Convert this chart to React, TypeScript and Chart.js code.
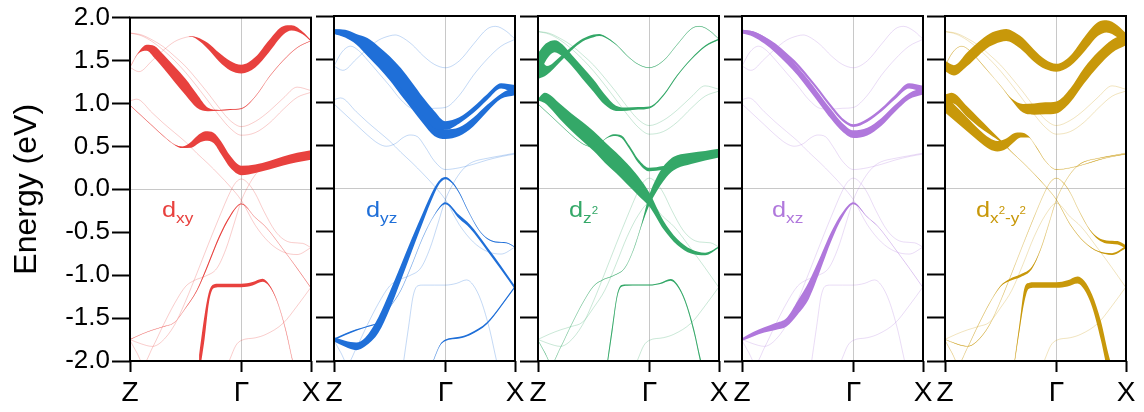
import React, { useEffect, useRef } from 'react';
import { Chart, registerables } from 'chart.js';

Chart.register(...registerables);

const FONT = "'Liberation Sans', Arial, Helvetica, sans-serif";
Chart.defaults.font.family = FONT;

// ---------- axes ----------
const xTickValues = [0, 1.0, 1.625];
const xTickLabels = ['Z', 'Γ', 'X'];
const yTickLabels = ['-2.0', '-1.5', '-1.0', '-0.5', '0.0', '0.5', '1.0', '1.5', '2.0'];
const yTitle = 'Energy (eV)';

// ---------- bands (k along Z-Γ-X, energy in eV) ----------
const kAlpha = [0, 0.07, 0.15, 0.22, 0.3, 0.4, 0.5, 0.6, 0.7, 0.8, 0.9, 1.0, 1.125, 1.25, 1.375, 1.5, 1.625];
const eAlpha = [1.42, 1.58, 1.65, 1.6, 1.49, 1.34, 1.19, 1.03, 0.93, 0.92, 0.93, 0.94, 1.08, 1.31, 1.5, 1.65, 1.73];

const kBeta = [0, 0.08, 0.2, 0.3, 0.4, 0.5, 0.55, 0.6, 0.7, 0.8, 0.9, 1.0, 1.125, 1.25, 1.375, 1.45, 1.55, 1.625];
const eBeta = [1.42, 1.37, 1.5, 1.62, 1.72, 1.77, 1.78, 1.76, 1.67, 1.54, 1.44, 1.4, 1.48, 1.67, 1.85, 1.88, 1.82, 1.73];

const kGamma = [0, 0.1, 0.2, 0.3, 0.4, 0.5, 0.6, 0.7, 0.8, 0.9, 1.0, 1.125, 1.25, 1.375, 1.5, 1.625];
const eGamma1 = [1.82, 1.8, 1.74, 1.66, 1.55, 1.43, 1.28, 1.12, 0.95, 0.8, 0.73, 0.79, 0.91, 1.06, 1.19, 1.15];
const eGamma2 = [1.82, 1.79, 1.72, 1.62, 1.5, 1.36, 1.2, 1.03, 0.86, 0.71, 0.63, 0.66, 0.77, 0.93, 1.07, 1.13];

const kDelta = [0, 0.1, 0.2, 0.3, 0.4, 0.47, 0.55, 0.62, 0.68, 0.75, 0.82, 0.9, 1.0, 1.125, 1.25, 1.375, 1.5, 1.625];
const eDelta = [0.98, 0.86, 0.74, 0.62, 0.52, 0.49, 0.52, 0.59, 0.62, 0.6, 0.48, 0.32, 0.22, 0.24, 0.28, 0.33, 0.37, 0.4];

const kEps = [0, 0.06, 0.2, 0.3, 0.4, 0.5, 0.6, 0.7, 0.8, 0.9, 1.0, 1.125, 1.25, 1.375, 1.5, 1.625];
const eEps = [1.03, 1.05, 0.89, 0.77, 0.66, 0.55, 0.42, 0.3, 0.17, 0.03, -0.13, -0.42, -0.62, -0.73, -0.76, -0.68];

const kEta = [0, 0.06, 0.12, 0.2, 0.3, 0.4, 0.5, 0.58, 0.68, 0.78, 0.86, 0.93, 1.0, 1.0625, 1.125, 1.1875, 1.25, 1.375, 1.5, 1.625];
const eEta = [-1.76, -1.9, -2.03, -1.85, -1.58, -1.33, -1.13, -1.06, -1.01, -0.92, -0.7, -0.42, -0.13, 0.04, 0.17, 0.26, 0.31, 0.35, 0.38, 0.41];

const kZeta = [0, 0.1, 0.2, 0.28, 0.4, 0.5, 0.6, 0.7, 0.8, 0.9, 0.95, 1.0, 1.06, 1.125, 1.2, 1.3, 1.375, 1.45, 1.55, 1.625];
const eZeta = [-1.75, -1.8, -1.83, -1.78, -1.58, -1.3, -0.98, -0.65, -0.33, -0.03, 0.08, 0.12, 0.07, -0.05, -0.25, -0.48, -0.58, -0.62, -0.63, -0.68];

const kTheta = [0, 0.1, 0.2, 0.3, 0.4, 0.5, 0.6, 0.7, 0.8, 0.9, 1.0, 1.125, 1.22, 1.375, 1.5, 1.625];
const eTheta = [-1.75, -1.69, -1.64, -1.6, -1.55, -1.38, -1.18, -0.88, -0.56, -0.31, -0.17, -0.33, -0.44, -0.7, -0.92, -1.15];

const kMu = [0.86, 0.9, 0.95, 1.0, 1.125, 1.22, 1.375, 1.5, 1.625];
const eMu = [-2.1, -1.97, -1.82, -1.76, -1.73, -1.69, -1.56, -1.36, -1.14];

const kXi = [0.62, 0.67, 0.71, 0.75, 0.8, 0.9, 1.0, 1.1, 1.19, 1.25, 1.32, 1.4, 1.46, 1.5];
const eXi = [-2.05, -1.6, -1.25, -1.13, -1.12, -1.12, -1.12, -1.1, -1.06, -1.12, -1.3, -1.65, -2.0, -2.2];

type Band = { name: string; k: number[]; e: number[] };
const BANDS: Band[] = [
  { name: 'alpha', k: kAlpha, e: eAlpha },
  { name: 'beta', k: kBeta, e: eBeta },
  { name: 'gamma1', k: kGamma, e: eGamma1 },
  { name: 'gamma2', k: kGamma, e: eGamma2 },
  { name: 'delta', k: kDelta, e: eDelta },
  { name: 'eps', k: kEps, e: eEps },
  { name: 'eta', k: kEta, e: eEta },
  { name: 'zeta', k: kZeta, e: eZeta },
  { name: 'theta', k: kTheta, e: eTheta },
  { name: 'mu', k: kMu, e: eMu },
  { name: 'xi', k: kXi, e: eXi },
];

// ---------- orbital weights (half-thickness in eV), aligned with band points ----------
const wDxy: Record<string, number[]> = {
  alpha: [0.003, 0.005, 0.035, 0.07, 0.08, 0.09, 0.095, 0.08, 0.02, 0.005, 0.005, 0.005, 0.003, 0.003, 0.003, 0.003, 0.003],
  beta: [0, 0, 0, 0, 0, 0, 0.004, 0.012, 0.035, 0.05, 0.055, 0.05, 0.06, 0.07, 0.05, 0.03, 0.015, 0.008],
  delta: [0.003, 0.003, 0.003, 0.003, 0.003, 0.01, 0.035, 0.05, 0.055, 0.06, 0.075, 0.07, 0.055, 0.05, 0.05, 0.052, 0.055, 0.055],
  theta: [0.002, 0.002, 0.002, 0.002, 0.002, 0.004, 0.008, 0.015, 0.016, 0.012, 0.005, 0.002, 0.002, 0.002, 0.002, 0.002],
  xi: [0.12, 0.14, 0.06, 0.022, 0.02, 0.02, 0.02, 0.02, 0.018, 0.01, 0.005, 0.005, 0.005, 0.005],
};
const wDyz: Record<string, number[]> = {
  gamma1: [0.025, 0.04, 0.05, 0.084, 0.097, 0.104, 0.116, 0.11, 0.105, 0.1, 0.05, 0.035, 0.035, 0.033, 0.03, 0.05],
  gamma2: [0.025, 0.04, 0.05, 0.084, 0.097, 0.104, 0.116, 0.11, 0.105, 0.1, 0.055, 0.05, 0.05, 0.04, 0.03, 0.05],
  zeta: [0.025, 0.035, 0.045, 0.05, 0.09, 0.1, 0.09, 0.075, 0.055, 0.035, 0.02, 0.012, 0.01, 0.008, 0.006, 0.005, 0.005, 0.005, 0.005, 0.005],
  theta: [0.01, 0.01, 0.008, 0.006, 0.004, 0.003, 0.003, 0.003, 0.003, 0.004, 0.012, 0.022, 0.022, 0.022, 0.022, 0.02],
  mu: [0.004, 0.004, 0.006, 0.008, 0.01, 0.012, 0.012, 0.012, 0.012],
};
const wDz2: Record<string, number[]> = {
  alpha: [0.15, 0.1, 0.07, 0.07, 0.065, 0.07, 0.07, 0.06, 0.03, 0.018, 0.015, 0.012, 0.01, 0.008, 0.008, 0.008, 0.008],
  beta: [0.15, 0.05, 0.03, 0.02, 0.015, 0.015, 0.012, 0.008, 0.004, 0.003, 0.003, 0.003, 0.003, 0.003, 0.003, 0.003, 0.003, 0.003],
  delta: [0.003, 0.003, 0.003, 0.003, 0.003, 0.003, 0.003, 0.005, 0.01, 0.015, 0.018, 0.02, 0.02, 0.02, 0.01, 0.005, 0.005, 0.005],
  eps: [0.01, 0.06, 0.09, 0.1, 0.11, 0.115, 0.12, 0.12, 0.12, 0.11, 0.08, 0.05, 0.035, 0.025, 0.015, 0.008],
  eta: [0.003, 0.003, 0.003, 0.003, 0.003, 0.003, 0.003, 0.003, 0.003, 0.003, 0.005, 0.01, 0.06, 0.08, 0.085, 0.08, 0.075, 0.065, 0.055, 0.05],
  xi: [0.03, 0.04, 0.02, 0.01, 0.008, 0.006, 0.006, 0.008, 0.01, 0.012, 0.015, 0.025, 0.03, 0.03],
};
const wDxz: Record<string, number[]> = {
  gamma1: [0.02, 0.022, 0.022, 0.02, 0.02, 0.02, 0.02, 0.02, 0.02, 0.018, 0.016, 0.018, 0.02, 0.025, 0.03, 0.04],
  gamma2: [0.02, 0.03, 0.04, 0.045, 0.05, 0.05, 0.055, 0.055, 0.055, 0.05, 0.045, 0.045, 0.045, 0.04, 0.035, 0.04],
  theta: [0.015, 0.025, 0.03, 0.04, 0.05, 0.08, 0.1, 0.08, 0.055, 0.03, 0.012, 0.002, 0.002, 0.002, 0.002, 0.002],
};
const wDx2y2: Record<string, number[]> = {
  alpha: [0.002, 0.002, 0.002, 0.002, 0.002, 0.002, 0.002, 0.01, 0.05, 0.065, 0.07, 0.07, 0.08, 0.09, 0.085, 0.075, 0.07],
  beta: [0.06, 0.06, 0.08, 0.08, 0.075, 0.07, 0.07, 0.07, 0.075, 0.07, 0.055, 0.045, 0.06, 0.085, 0.08, 0.07, 0.07, 0.07],
  delta: [0.1, 0.09, 0.08, 0.07, 0.065, 0.06, 0.06, 0.05, 0.03, 0.01, 0.004, 0.002, 0.002, 0.002, 0.002, 0.002, 0.002, 0.002],
  eps: [0.06, 0.06, 0.06, 0.05, 0.03, 0.012, 0.004, 0.002, 0.002, 0.002, 0.002, 0.002, 0.002, 0.004, 0.01, 0.012],
  eta: [0.002, 0.002, 0.002, 0.002, 0.002, 0.002, 0.006, 0.012, 0.015, 0.012, 0.004, 0.002, 0.002, 0.002, 0.002, 0.002, 0.002, 0.002, 0.002, 0.002],
  zeta: [0.002, 0.002, 0.002, 0.002, 0.002, 0.002, 0.002, 0.002, 0.002, 0.002, 0.002, 0.002, 0.002, 0.002, 0.002, 0.004, 0.012, 0.018, 0.02, 0.02],
  xi: [0.01, 0.04, 0.08, 0.035, 0.032, 0.032, 0.032, 0.035, 0.04, 0.05, 0.07, 0.11, 0.12, 0.12],
};

type Panel = { color: [number, number, number]; weights: Record<string, number[]> };
const PANELS: Panel[] = [
  { color: [232, 65, 62], weights: wDxy },
  { color: [31, 111, 216], weights: wDyz },
  { color: [52, 168, 104], weights: wDz2 },
  { color: [176, 120, 220], weights: wDxz },
  { color: [200, 152, 10], weights: wDx2y2 },
];

// ---------- layout ----------
const CANVAS_H = 412;
const PLOT_TOP = 16;
const X_AXIS_H = 51;
const PLOT_W = 181;
const RIGHT_PAD = 14;
const Y_TICK_LEN = 18;
const FIRST_AXIS_W = 130;
const panelLefts = [130, 334, 538, 742, 945];
const GRID = '#c8c8c8';
const CLEAR = 'rgba(0,0,0,0)';

const rgba = (c: number[], a: number) => `rgba(${c[0]},${c[1]},${c[2]},${a})`;

const framePlugin = {
  id: 'frame',
  afterDraw(chart: any) {
    const { ctx, chartArea } = chart;
    const { left, top, right, bottom } = chartArea;
    ctx.save();
    ctx.strokeStyle = '#000';
    ctx.lineWidth = 2;
    ctx.strokeRect(left, top, right - left, bottom - top);
    ctx.restore();
  },
};

function buildDatasets(p: Panel) {
  const col = rgba(p.color, 1);
  const fat: any[] = [];
  const thin: any[] = [];
  BANDS.forEach((b) => {
    thin.push({
      data: b.k.map((x, i) => ({ x, y: b.e[i] })),
      borderColor: rgba(p.color, 0.38),
      borderWidth: 0.7,
      pointRadius: 0,
      fill: false,
      cubicInterpolationMode: 'monotone',
      order: 2,
    });
    const w = p.weights[b.name];
    if (w) {
      fat.push({
        data: b.k.map((x, i) => ({ x, y: b.e[i] + w[i] })),
        borderWidth: 0,
        borderColor: CLEAR,
        backgroundColor: col,
        pointRadius: 0,
        fill: '+1',
        cubicInterpolationMode: 'monotone',
        order: 1,
      });
      fat.push({
        data: b.k.map((x, i) => ({ x, y: b.e[i] - w[i] })),
        borderWidth: 0,
        borderColor: CLEAR,
        pointRadius: 0,
        fill: false,
        cubicInterpolationMode: 'monotone',
        order: 1,
      });
    }
  });
  return [...fat, ...thin];
}

function makeConfig(i: number): any {
  const first = i === 0;
  const leftW = first ? FIRST_AXIS_W : Y_TICK_LEN;
  return {
    type: 'line',
    data: { datasets: buildDatasets(PANELS[i]) },
    plugins: [framePlugin],
    options: {
      animation: false,
      responsive: false,
      events: [],
      layout: { padding: { top: PLOT_TOP, right: RIGHT_PAD, left: 0, bottom: 0 } },
      plugins: { legend: { display: false }, tooltip: { enabled: false } },
      scales: {
        x: {
          type: 'linear',
          min: 0,
          max: 1.625,
          afterBuildTicks: (s: any) => {
            s.ticks = xTickValues.map((v) => ({ value: v }));
          },
          afterFit: (s: any) => {
            s.height = X_AXIS_H;
            s.paddingLeft = 0;
            s.paddingRight = 0;
          },
          ticks: {
            autoSkip: false,
            maxRotation: 0,
            minRotation: 0,
            padding: 4,
            color: '#000',
            font: { size: 28, family: FONT },
            callback: (v: any) => {
              const idx = xTickValues.indexOf(Number(v));
              return idx >= 0 ? xTickLabels[idx] : '';
            },
          },
          grid: {
            color: (c: any) => (c.tick && c.tick.value === 1 ? GRID : CLEAR),
            lineWidth: 1,
            drawTicks: true,
            tickLength: 11,
            tickColor: '#000',
            tickWidth: 2,
          },
          border: { display: false },
        },
        y: {
          type: 'linear',
          min: -2,
          max: 2,
          afterFit: (s: any) => {
            s.width = leftW;
          },
          ticks: {
            stepSize: 0.5,
            display: first,
            padding: 2,
            color: '#000',
            font: { size: 26, family: FONT },
            callback: (_v: any, idx: number) => yTickLabels[idx],
          },
          grid: {
            color: (c: any) => (c.tick && c.tick.value === 0 ? GRID : CLEAR),
            lineWidth: 1,
            drawTicks: true,
            tickLength: Y_TICK_LEN,
            tickColor: '#000',
            tickWidth: 2,
          },
          border: { display: false },
          title: {
            display: first,
            text: yTitle,
            color: '#000',
            font: { size: 32, family: FONT },
            padding: { top: 8, bottom: 0 },
          },
        },
      },
    },
  };
}

const labelLefts = [162, 366, 569, 772, 976];
const SUB: React.CSSProperties = { fontSize: 15, position: 'relative', top: 6 };
const SUP: React.CSSProperties = { fontSize: 10, position: 'relative', top: -9 };

function PanelLabel({ i }: { i: number }) {
  const c = PANELS[i].color;
  const style: React.CSSProperties = {
    position: 'absolute',
    left: labelLefts[i],
    top: 199,
    color: rgba(c, 1),
    font: `22px ${FONT}`,
    lineHeight: '22px',
    whiteSpace: 'nowrap',
    transform: 'scaleX(1.15)',
    transformOrigin: 'left top',
  };
  let sub: React.ReactNode;
  if (i === 0) sub = 'xy';
  else if (i === 1) sub = 'yz';
  else if (i === 2) sub = (<>z<span style={SUP}>2</span></>);
  else if (i === 3) sub = 'xz';
  else sub = (<>x<span style={SUP}>2</span>-y<span style={SUP}>2</span></>);
  return (
    <div style={style}>
      d<span style={SUB}>{sub}</span>
    </div>
  );
}

export default function App() {
  const refs = useRef<(HTMLCanvasElement | null)[]>([]);
  useEffect(() => {
    const charts = PANELS.map((_, i) => new Chart(refs.current[i] as HTMLCanvasElement, makeConfig(i)));
    return () => charts.forEach((c) => c.destroy());
  }, []);
  return (
    <div style={{ position: 'absolute', left: 0, top: 0, width: 1144, height: CANVAS_H, background: '#fff', overflow: 'hidden' }}>
      {PANELS.map((_, i) => {
        const leftW = i === 0 ? FIRST_AXIS_W : Y_TICK_LEN;
        const cl = panelLefts[i] - leftW;
        const cw = leftW + PLOT_W + RIGHT_PAD;
        return (
          <canvas
            key={i}
            ref={(el) => {
              refs.current[i] = el;
            }}
            width={cw}
            height={CANVAS_H}
            style={{ position: 'absolute', left: cl, top: 0, width: cw, height: CANVAS_H }}
          />
        );
      })}
      {PANELS.map((_, i) => (
        <PanelLabel key={'l' + i} i={i} />
      ))}
    </div>
  );
}
